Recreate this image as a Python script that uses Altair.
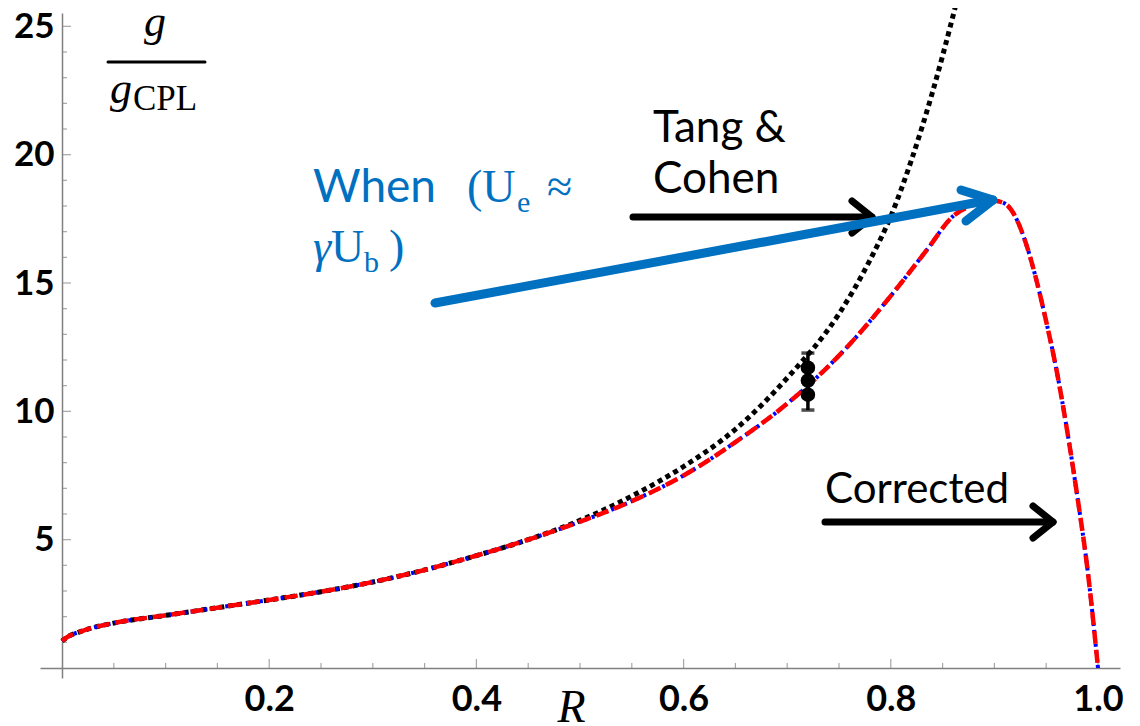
import altair as alt
import pandas as pd

# ---------------- data ----------------
R_CORR = [0.0, 0.005, 0.02, 0.05, 0.1, 0.15, 0.2, 0.25, 0.3, 0.35, 0.4, 0.45, 0.5, 0.55,
          0.6, 0.65, 0.7, 0.72, 0.76, 0.8, 0.835, 0.86, 0.88, 0.9, 0.91, 0.92, 0.93, 0.94,
          0.95, 0.96, 0.97, 0.98, 0.99, 1.0]
G_CORR = [1.05, 1.2, 1.45, 1.75, 2.05, 2.35, 2.65, 2.97, 3.35, 3.82, 4.38, 5.0, 5.7, 6.5,
          7.5, 8.8, 10.3, 11.0, 12.6, 14.5, 16.3, 17.6, 18.05, 18.2, 18.1, 17.6, 16.6, 15.2,
          13.5, 11.6, 9.3, 6.7, 3.8, 0.0]

R_TC = [0.0, 0.005, 0.02, 0.05, 0.1, 0.15, 0.2, 0.25, 0.3, 0.35, 0.4, 0.45, 0.5, 0.55,
        0.6, 0.65, 0.7, 0.75, 0.78, 0.8, 0.82, 0.84, 0.86, 0.865]
G_TC = [1.05, 1.2, 1.45, 1.75, 2.05, 2.35, 2.65, 2.97, 3.35, 3.82, 4.38, 5.0, 5.75, 6.7,
        7.85, 9.3, 11.3, 13.8, 15.9, 17.6, 19.8, 22.4, 25.4, 26.2]

R_EXP = [0.72, 0.72, 0.72]
G_EXP = [11.7, 11.2, 10.65]
E_EXP = [0.57, 0.55, 0.6]

X_LABELS = [0.2, 0.4, 0.6, 0.8, 1.0]
Y_LABELS = [5, 10, 15, 20, 25]
X_MINOR = [0.05, 0.1, 0.15, 0.25, 0.3, 0.35, 0.45, 0.5, 0.55, 0.65, 0.7, 0.75, 0.85, 0.9, 0.95]
Y_MINOR = [1, 2, 3, 4, 6, 7, 8, 9, 11, 12, 13, 14, 16, 17, 18, 19, 21, 22, 23, 24]

corr = pd.DataFrame({"R": R_CORR, "g": G_CORR})
tc = pd.DataFrame({"R": R_TC, "g": G_TC})
exp = pd.DataFrame({"R": R_EXP, "g": G_EXP, "e": E_EXP})
xmaj = pd.DataFrame({"R": X_LABELS})
xmin = pd.DataFrame({"R": X_MINOR})
ymaj = pd.DataFrame({"g": Y_LABELS})
ymin = pd.DataFrame({"g": Y_MINOR})

# ---------------- layout / styles ----------------
W, H = 1080, 665
AX = "#808080"
BLUE = "#0070C0"
SANS = "Lato"
SERIF = "Liberation Serif"

xscale = alt.Scale(domain=[-0.02124, 1.02124], nice=False, zero=False)
yscale = alt.Scale(domain=[-0.39, 25.52], nice=False, zero=False)

xaxis = alt.Axis(values=X_LABELS, format=".1f", ticks=False, offset=-10, grid=False,
                 domainColor=AX, domainWidth=1.5, labelFont=SANS, labelFontWeight="bold",
                 labelFontSize=36, labelColor="black", labelPadding=14, labelFlush=False,
                 labelOverlap=False, title="R", titleFont=SERIF, titleFontStyle="italic",
                 titleFontWeight="normal", titleFontSize=46, titleColor="black",
                 titleX=531, titleY=53, titleBaseline="alphabetic", titleAlign="center")
yaxis = alt.Axis(values=Y_LABELS, format="d", ticks=False, offset=-22, grid=False,
                 domainColor=AX, domainWidth=1.5, labelFont=SANS, labelFontWeight="bold",
                 labelFontSize=35, labelColor="black", labelPadding=8, labelFlush=False,
                 labelOverlap=False, title=None)


def X(f):
    return alt.X(f, type="quantitative", scale=xscale, axis=xaxis)


def Y(f):
    return alt.Y(f, type="quantitative", scale=yscale, axis=yaxis)


# inward tick marks (Mathematica style)
tx_major = alt.Chart(xmaj).mark_tick(orient="vertical", size=9, thickness=1.2, color=AX,
                                     yOffset=-4.5).encode(x=X("R"), y=alt.YDatum(0, type="quantitative"))
tx_minor = alt.Chart(xmin).mark_tick(orient="vertical", size=5, thickness=1.2, color=AX,
                                     yOffset=-2.5).encode(x=X("R"), y=alt.YDatum(0, type="quantitative"))
ty_major = alt.Chart(ymaj).mark_tick(orient="horizontal", size=9, thickness=1.2, color=AX,
                                     xOffset=4.5).encode(y=Y("g"), x=alt.XDatum(0, type="quantitative"))
ty_minor = alt.Chart(ymin).mark_tick(orient="horizontal", size=5, thickness=1.2, color=AX,
                                     xOffset=2.5).encode(y=Y("g"), x=alt.XDatum(0, type="quantitative"))

tc_line = alt.Chart(tc).mark_line(color="black", strokeWidth=5, strokeDash=[5, 4],
                                  interpolate="monotone").encode(x=X("R"), y=Y("g"))
blue_line = alt.Chart(corr).mark_line(color="#0000FF", strokeWidth=4, strokeDash=[3, 4],
                                      interpolate="monotone").encode(x=X("R"), y=Y("g"))
red_line = alt.Chart(corr).mark_line(color="#FF0000", strokeWidth=4.5, strokeDash=[13, 6],
                                     interpolate="monotone").encode(x=X("R"), y=Y("g"))

exp_base = alt.Chart(exp).transform_calculate(lo="datum.g - datum.e", hi="datum.g + datum.e")
err_rule = exp_base.mark_rule(color="black", strokeWidth=3.5).encode(
    x=X("R"), y=Y("lo:Q"), y2="hi:Q")
cap_lo = exp_base.mark_tick(orient="horizontal", size=13, thickness=3.5, color="black").encode(
    x=X("R"), y=Y("lo:Q"))
cap_hi = exp_base.mark_tick(orient="horizontal", size=13, thickness=3.5, color="black").encode(
    x=X("R"), y=Y("hi:Q"))
pts = exp_base.mark_circle(color="black", size=210, opacity=1).encode(x=X("R"), y=Y("g"))

# ---------------- annotations (pixel positions inside plot area) ----------------
segs = pd.DataFrame([
    # Tang & Cohen arrow
    (593, 204, 828, 204, 7, "black"), (832, 204, 812, 188, 7, "black"), (832, 204, 812, 220, 7, "black"),
    # Corrected arrow
    (785, 509, 1010, 509, 7, "black"), (1013, 509, 993, 493, 7, "black"), (1013, 509, 993, 525, 7, "black"),
    # blue arrow
    (395, 290, 950, 187, 9, BLUE), (953, 187, 921, 177, 9, BLUE), (953, 187, 926, 208, 9, BLUE),
    # fraction bar
    (68, 49, 165, 49, 3, "black"),
], columns=["x", "y", "x2", "y2", "w", "c"])

arrows = alt.Chart(segs).mark_rule(strokeCap="round").encode(
    x=alt.X("x:Q", scale=None), y=alt.Y("y:Q", scale=None),
    x2="x2:Q", y2="y2:Q",
    strokeWidth=alt.StrokeWidth("w:Q", scale=None, legend=None),
    color=alt.Color("c:N", scale=None, legend=None))

texts = pd.DataFrame([
    ("Tang &", 613, 129, 44, "black", "sans"),
    ("Cohen", 613, 180, 44, "black", "sans"),
    ("Corrected", 785, 490, 42, "black", "sans"),
    ("When", 273, 189, 46, BLUE, "sans"),
    ("(U", 427, 189, 46, BLUE, "serif"),
    ("e", 477, 199, 30, BLUE, "serif"),
    ("\u2248", 507, 189, 46, BLUE, "serif"),
    ("\u03b3", 273, 249, 46, BLUE, "italic"),
    ("U", 291, 249, 46, BLUE, "serif"),
    ("b", 324, 259, 30, BLUE, "serif"),
    (")", 349, 249, 46, BLUE, "serif"),
    ("g", 104, 23, 44, "black", "italic"),
    ("g", 70, 90, 44, "black", "italic"),
    ("CPL", 93, 97, 35, "black", "serif"),
], columns=["t", "x", "y", "s", "c", "k"])


def text_layer(kind, font, style):
    return alt.Chart(texts).transform_filter(alt.datum.k == kind).mark_text(
        font=font, fontStyle=style, align="left", baseline="alphabetic").encode(
        x=alt.X("x:Q", scale=None), y=alt.Y("y:Q", scale=None), text="t:N",
        size=alt.Size("s:Q", scale=None, legend=None),
        color=alt.Color("c:N", scale=None, legend=None))


t_sans = text_layer("sans", SANS, "normal")
t_serif = text_layer("serif", SERIF, "normal")
t_ital = text_layer("italic", SERIF, "italic")

chart = alt.layer(
    tx_major, tx_minor, ty_major, ty_minor,
    tc_line, blue_line, red_line,
    err_rule, cap_lo, cap_hi, pts,
    arrows, t_sans, t_serif, t_ital,
).properties(
    width=W, height=H,
    autosize=alt.AutoSizeParams(type="none"),
    padding={"left": 32, "top": 5, "right": 12, "bottom": 52},
    background="white",
).configure_view(strokeOpacity=0)

chart.save("out.html", embed_options={"renderer": "svg", "actions": False})
